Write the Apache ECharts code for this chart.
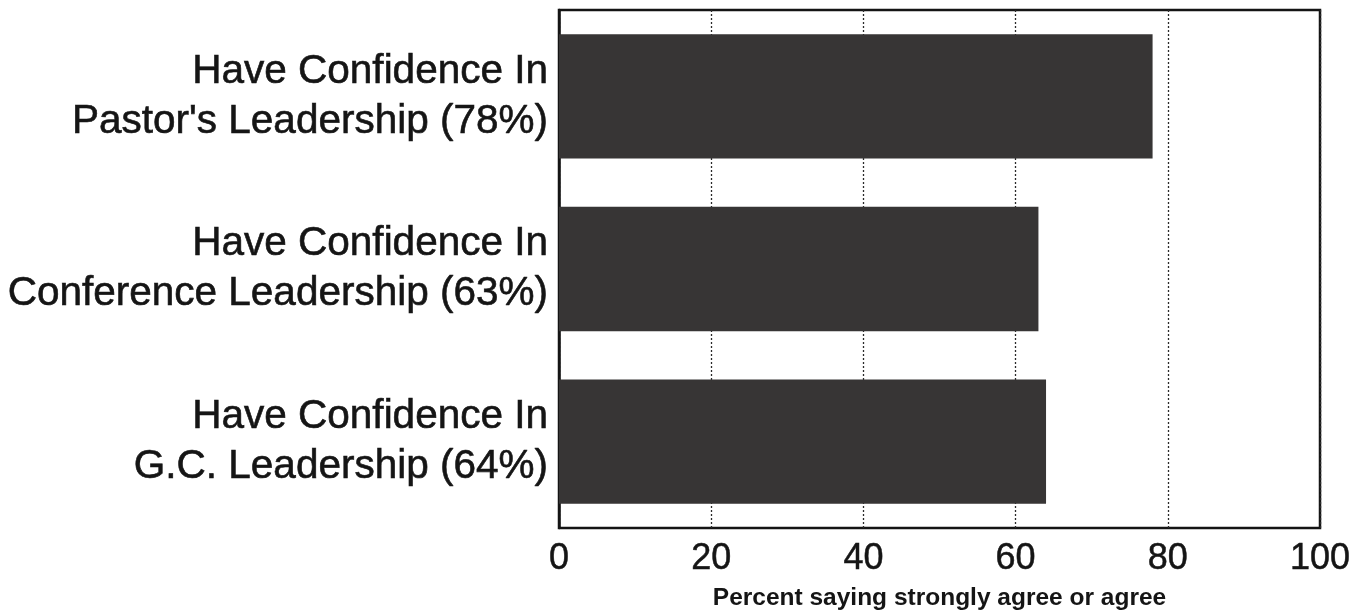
<!DOCTYPE html>
<html>
<head>
<meta charset="utf-8">
<script src="https://cdn.jsdelivr.net/npm/echarts@6/dist/echarts.min.js"></script>
<style>
  html, body { margin: 0; padding: 0; background: #ffffff; }
  #chart { width: 1365px; height: 613px; }
</style>
</head>
<body>
<div id="chart"></div>
<script>
// Survey items, top to bottom
const categories = [
  "Have Confidence In\nPastor's Leadership (78%)",
  "Have Confidence In\nConference Leadership (63%)",
  "Have Confidence In\nG.C. Leadership (64%)"
];
// Percent saying strongly agree or agree
const values = [78, 63, 64];
const xTicks = [0, 20, 40, 60, 80, 100];
const xTitle = 'Percent saying strongly agree or agree';

const FONT = '"Liberation Sans", Arial, sans-serif';
const INK = '#151515';
const chart = echarts.init(document.getElementById('chart'), null, { renderer: 'canvas' });

chart.setOption({
  backgroundColor: '#ffffff',
  animation: false,
  grid: {
    left: 559, right: 45, top: 10, bottom: 85,
    outerBoundsMode: 'none',
    show: true, borderColor: '#141414', borderWidth: 2.5, backgroundColor: 'transparent'
  },
  xAxis: {
    type: 'value',
    min: xTicks[0], max: xTicks[xTicks.length - 1], interval: 20,
    name: xTitle,
    nameLocation: 'middle',
    nameGap: 58,
    nameTextStyle: { fontFamily: FONT, fontSize: 24.5, fontWeight: 'bold', color: INK },
    axisLine: { show: false },
    axisTick: { show: false },
    axisLabel: {
      fontFamily: FONT, fontSize: 36, color: INK, margin: 13,
      textBorderColor: INK, textBorderWidth: 0.5
    },
    splitLine: { show: true, lineStyle: { color: '#2a2a2a', type: [2, 2], width: 1.3 } }
  },
  yAxis: {
    type: 'category',
    data: categories,
    inverse: true,
    axisLine: { show: true, lineStyle: { color: '#141414', width: 2.5 } },
    axisTick: { show: false },
    axisLabel: {
      fontFamily: FONT, fontSize: 40.5, lineHeight: 50, color: INK,
      align: 'right', margin: 11,
      textBorderColor: INK, textBorderWidth: 0.6
    },
    splitLine: { show: false }
  },
  series: [{
    type: 'bar',
    data: values,
    barCategoryGap: '28%',
    itemStyle: { color: '#373535' },
    silent: true
  }]
});
</script>
</body>
</html>
